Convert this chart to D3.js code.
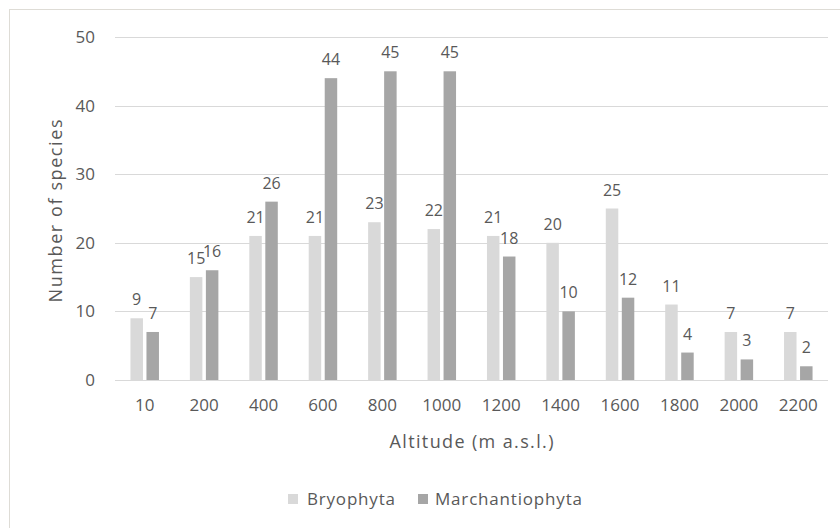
<!DOCTYPE html>
<html>
<head>
<meta charset="utf-8">
<title>Number of species by altitude</title>
<script src="https://cdn.jsdelivr.net/npm/d3@7"></script>
<style>
  body { margin: 0; background: #fff; }
  svg text { font-family: "Open Sans", "Noto Sans", sans-serif; fill: #595959; }
</style>
</head>
<body>
<div id="chart"></div>
<script>
// chart data
const altitudes = ['10', '200', '400', '600', '800', '1000', '1200', '1400', '1600', '1800', '2000', '2200'];
const seriesNames = ['Bryophyta', 'Marchantiophyta'];
const bryophyta = [9, 15, 21, 21, 23, 22, 21, 20, 25, 11, 7, 7];
const marchantiophyta = [7, 16, 26, 44, 45, 45, 18, 10, 12, 4, 3, 2];
const yTicks = [0, 10, 20, 30, 40, 50];

const colors = { Bryophyta: '#d9d9d9', Marchantiophyta: '#a6a6a6' };
const values = { Bryophyta: bryophyta, Marchantiophyta: marchantiophyta };

const W = 840, H = 528;
const plot = { left: 115, right: 828, top: 37, bottom: 380 };

const svg = d3.select('#chart').append('svg')
    .attr('width', W)
    .attr('height', H);

// outer frame
svg.append('rect')
    .attr('x', 9.5).attr('y', 9.5)
    .attr('width', W).attr('height', H)
    .attr('fill', 'none')
    .attr('stroke', '#dedcd6');

const x0 = d3.scaleBand()
    .domain(altitudes)
    .range([plot.left, plot.right]);

const x1 = d3.scaleBand()
    .domain(seriesNames)
    .range([0, 28.5])
    .paddingInner(0.22);

const y = d3.scaleLinear()
    .domain([0, 50])
    .range([plot.bottom, plot.top]);

// gridlines
svg.append('g')
    .selectAll('line')
    .data(yTicks)
  .enter().append('line')
    .attr('x1', plot.left).attr('x2', plot.right)
    .attr('y1', d => Math.round(y(d)) + 0.5)
    .attr('y2', d => Math.round(y(d)) + 0.5)
    .attr('stroke', '#d9d9d9')
    .attr('stroke-width', 1);

// y tick labels
svg.append('g')
    .selectAll('text')
    .data(yTicks)
  .enter().append('text')
    .attr('x', 95)
    .attr('y', d => y(d))
    .attr('dy', '0.35em')
    .attr('text-anchor', 'end')
    .style('font-size', '17px')
    .text(d => d);

// x tick labels
svg.append('g')
    .selectAll('text')
    .data(altitudes)
  .enter().append('text')
    .attr('x', d => x0(d) + x0.bandwidth() / 2)
    .attr('y', 405)
    .attr('dy', '0.35em')
    .attr('text-anchor', 'middle')
    .style('font-size', '17px')
    .text(d => d);

// bars + value labels
const groupOffset = x0.bandwidth() / 2 - 14.25;
const groups = svg.append('g')
    .selectAll('g')
    .data(altitudes)
  .enter().append('g')
    .attr('transform', d => 'translate(' + (x0(d) + groupOffset) + ',0)');

groups.selectAll('rect')
    .data((d, i) => seriesNames.map(s => ({ s: s, v: values[s][i] })))
  .enter().append('rect')
    .attr('x', d => x1(d.s))
    .attr('y', d => y(d.v))
    .attr('width', x1.bandwidth())
    .attr('height', d => y(0) - y(d.v))
    .style('fill', d => colors[d.s]);

groups.selectAll('text')
    .data((d, i) => seriesNames.map(s => ({ s: s, v: values[s][i] })))
  .enter().append('text')
    .attr('x', d => x1(d.s) + x1.bandwidth() / 2)
    .attr('y', d => y(d.v) - 13)
    .attr('text-anchor', 'middle')
    .style('font-size', '16px')
    .text(d => d.v);

// axis titles
svg.append('text')
    .attr('x', (plot.left + plot.right) / 2)
    .attr('y', 442)
    .attr('dy', '0.35em')
    .attr('text-anchor', 'middle')
    .attr('textLength', 164)
    .attr('lengthAdjust', 'spacing')
    .style('font-size', '18px')
    .text('Altitude (m a.s.l.)');

svg.append('text')
    .attr('transform', 'translate(56,' + 211 + ') rotate(-90)')
    .attr('dy', '0.35em')
    .attr('text-anchor', 'middle')
    .attr('textLength', 183)
    .attr('lengthAdjust', 'spacing')
    .style('font-size', '18px')
    .text('Number of species');

// legend
const legendX = [288, 418];
const legendLen = [88, 147];
const legend = svg.append('g')
    .selectAll('g')
    .data(seriesNames)
  .enter().append('g')
    .attr('transform', (d, i) => 'translate(' + legendX[i] + ',499)');

legend.append('rect')
    .attr('x', 0).attr('y', -5)
    .attr('width', 10).attr('height', 10)
    .style('fill', d => colors[d]);

legend.append('text')
    .attr('x', (d, i) => i === 0 ? 19 : 17)
    .attr('dy', '0.35em')
    .attr('textLength', (d, i) => legendLen[i])
    .attr('lengthAdjust', 'spacing')
    .style('font-size', '17px')
    .text(d => d);
</script>
</body>
</html>
